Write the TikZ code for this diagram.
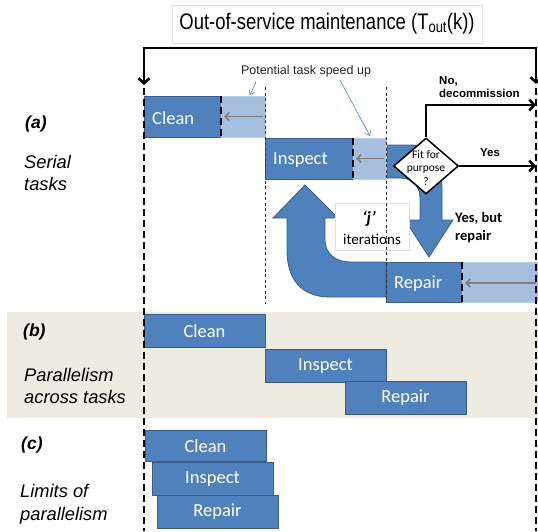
\documentclass[tikz,border=0pt]{standalone}
\usepackage{fontspec}
\setmainfont{Liberation Sans}
\newfontfamily\calfont{Carlito}
\usetikzlibrary{shapes.geometric,arrows.meta}
\definecolor{cdark}{HTML}{4F81BD}
\definecolor{cborder}{HTML}{385D8A}
\definecolor{clight}{HTML}{A7BFDE}
\definecolor{clightb}{HTML}{B9CDE5}
\definecolor{cband}{HTML}{EEECE1}
\definecolor{ccall}{HTML}{4A7EBB}
\definecolor{cgrayarr}{HTML}{7F7F7F}
\tikzset{
  box/.style={anchor=north west,inner sep=0pt,outer sep=0pt},
  dark/.style={box,fill=cdark,draw=cborder,line width=0.8pt,text=white,font=\calfont\fontsize{18.5}{22}\selectfont},
  light/.style={box,fill=clight,draw=clightb,line width=0.5pt},
  boxtxt/.style={anchor=west,inner sep=0pt,text=white,font=\calfont\fontsize{18.5}{22}\selectfont},
  thickdash/.style={line width=2.2pt,dash pattern=on 7pt off 4pt},
  thindash/.style={line width=0.8pt,dash pattern=on 3pt off 2.5pt,draw=black!80},
  blk/.style={line width=2.6pt,line join=miter},
  btip/.tip={Straight Barb[length=5pt,width=11pt,line width=2.6pt]},
  grayarr/.style={draw=cgrayarr,line width=1.6pt,-{Straight Barb[length=4pt,width=8pt]}},
  callout/.style={draw=ccall,line width=0.6pt,-{Straight Barb[length=4pt,width=6pt,line width=0.6pt]}},
  bigarrow/.style={fill=cdark,draw=cborder,line width=0.8pt},
  lbl/.style={anchor=base west,inner sep=0pt,font=\fontsize{18.3}{21}\selectfont\itshape},
  lblb/.style={anchor=base west,inner sep=0pt,font=\fontsize{17.5}{21}\selectfont\bfseries\itshape},
}
\begin{document}
\begin{tikzpicture}[x=1pt,y=-1pt]
\useasboundingbox (0,0) rectangle (538,531);

% title
\node[draw=black!12,fill=white,line width=0.6pt,minimum width=310pt,minimum height=38pt,inner sep=0pt] (title) at (327,24)
  {\scalebox{0.82}[1]{\fontsize{22.5}{26}\selectfont Out-of-service maintenance (T\textsubscript{out}(k))}};

% band (b)
\node[box,fill=cband,minimum width=531pt,minimum height=106pt] (band) at (7,312) {};

% bracket
\coordinate (lend) at (144,85);
\coordinate (tl) at (144,48);
\coordinate (tr) at (536,48);
\coordinate (rend) at (536,84);
\draw[blk,{btip}-{btip}] (lend) -- (tl) -- (tr) -- (rend);

% big curved arrows
\path[bigarrow] (386,297) -- (330,297) .. controls (300,297) and (287,278) .. (287,250) -- (287,218) -- (273,218) -- (305,185) -- (338,218) -- (325,218) -- (325,240) .. controls (325,253) and (335,262) .. (350,262) -- (386,262) -- cycle;
\path[bigarrow] (387,145) -- (412,145) .. controls (432,145) and (442,165) .. (442,190) -- (442,220) -- (453,220) -- (429,257) -- (405,220) -- (420,220) -- (420,198) .. controls (420,186) and (412,178) .. (400,178) -- (387,178) -- cycle;

% j iterations label
\node[box,draw=black!12,fill=white,line width=0.5pt,minimum width=74pt,minimum height=47pt] (jbox) at (335,203) {};
\node[inner sep=0pt,font=\calfont\fontsize{17}{20}\selectfont\bfseries\itshape] (jtxt) at (369,219) {‘j’};
\node[inner sep=0pt,font=\calfont\fontsize{15}{18}\selectfont] (itertxt) at (372,239) {iterations};

% (a) boxes
\node[dark,minimum width=77pt,minimum height=41pt] (cleanA) at (144,96) {};
\node[light,minimum width=44pt,minimum height=41pt] (cleanAx) at (221,96) {};
\node[dark,minimum width=88pt,minimum height=41pt] (inspA) at (265,138) {};
\node[light,minimum width=33pt,minimum height=41pt] (inspAx) at (353,138) {};
\node[dark,minimum width=76pt,minimum height=40pt] (repA) at (386,262) {};
\node[light,minimum width=80pt,minimum height=40pt] (repAx) at (462,262) {};
\node[boxtxt] (cleanAt) at ([xshift=8pt,yshift=-1.5pt]cleanA.west) {Clean};
\node[boxtxt] (inspAt) at ([xshift=8pt,yshift=-1.5pt]inspA.west) {Inspect};
\node[boxtxt] (repAt) at ([xshift=8pt,yshift=-1.5pt]repA.west) {Repair};

\draw[grayarr] ([xshift=-2pt]cleanAx.east) -- ([xshift=3pt]cleanA.east);
\draw[grayarr] ([xshift=-2pt]inspAx.east) -- ([xshift=3pt]inspA.east);
\draw[grayarr] ([xshift=-6pt,yshift=-1pt]repAx.east) -- ([xshift=3pt,yshift=-1pt]repA.east);

\draw[thickdash] (cleanA.north east) -- (cleanA.south east);
\draw[thickdash] (inspA.north east) -- (inspA.south east);
\draw[thickdash] (repA.north east) -- (repA.south east);

% (b)
\node[dark,minimum width=121pt,minimum height=33pt] (cleanB) at (144,314) {};
\node[dark,minimum width=121pt,minimum height=33pt] (inspB) at (265,349) {};
\node[dark,minimum width=121pt,minimum height=33pt] (repB) at (345,381) {};
\node[inner sep=0pt,text=white,font=\calfont\fontsize{18.5}{22}\selectfont] at ([yshift=-0.5pt]cleanB.center) {Clean};
\node[inner sep=0pt,text=white,font=\calfont\fontsize{18.5}{22}\selectfont] at ([yshift=-0.5pt]inspB.center) {Inspect};
\node[inner sep=0pt,text=white,font=\calfont\fontsize{18.5}{22}\selectfont] at ([yshift=-0.5pt]repB.center) {Repair};

% (c)
\node[dark,minimum width=121pt,minimum height=31pt] (cleanC) at (145,430) {};
\node[dark,minimum width=121pt,minimum height=33pt] (inspC) at (152,462) {};
\node[dark,minimum width=121pt,minimum height=33pt] (repC) at (157,495) {};
\node[inner sep=0pt,text=white,font=\calfont\fontsize{18.5}{22}\selectfont] at ([yshift=-0.5pt]cleanC.center) {Clean};
\node[inner sep=0pt,text=white,font=\calfont\fontsize{18.5}{22}\selectfont] at ([yshift=-0.5pt]inspC.center) {Inspect};
\node[inner sep=0pt,text=white,font=\calfont\fontsize{18.5}{22}\selectfont] at ([yshift=-0.5pt]repC.center) {Repair};

% dashed verticals
\draw[thickdash] (144,88) -- (144,531);
\draw[thickdash] (536,88) -- (536,531);
\draw[thindash] (265,87) -- (265,304);
\draw[thindash] (386,87) -- (386,302);

% diamond and outcomes
\node[diamond,draw=black,fill=white,line width=1.5pt,minimum width=65pt,minimum height=56pt,inner sep=0pt] (dia) at (426,166) {};
\node[inner sep=0pt,align=center,font=\calfont\fontsize{11.5}{13.5}\selectfont] (diat) at (426,168) {Fit for\\purpose\\?};
\coordinate (noend) at (536,105);
\coordinate (yesend) at (536,166);
\draw[blk,-{btip}] (dia.north) |- (noend);
\draw[blk,-{btip}] (dia.east) -- (yesend);
\node[anchor=base west,inner sep=0pt,font=\fontsize{11.5}{14}\selectfont\bfseries] (notxt) at (439,84) {No,};
\node[anchor=base west,inner sep=0pt,font=\fontsize{11.5}{14}\selectfont\bfseries] (dectxt) at (439,97) {decommission};
\node[inner sep=0pt,font=\fontsize{11.5}{14}\selectfont\bfseries] (yestxt) at (490,153) {Yes};
\node[anchor=base west,inner sep=0pt,font=\calfont\fontsize{14.5}{17}\selectfont\bfseries] (ybtxt) at (455,222) {Yes, but};
\node[anchor=base west,inner sep=0pt,font=\calfont\fontsize{14.5}{17}\selectfont\bfseries] (reptxt) at (455,240) {repair};

% callout
\node[inner sep=0pt,text=black!85,font=\fontsize{12.5}{15}\selectfont] (pts) at (306,71) {Potential task speed up};
\coordinate (c1s) at (256,82);
\coordinate (c1e) at (250,95);
\coordinate (c2s) at (340,80);
\coordinate (c2e) at (370,136);
\draw[callout] (c1s) -- (c1e);
\draw[callout] (c2s) -- (c2e);

% side labels
\node[lblb] (la) at (25,128) {(a)};
\node[lbl] (la1) at (24,168) {Serial};
\node[lbl] (la2) at (24,190) {tasks};
\node[lblb] (lb) at (23,336) {(b)};
\node[lbl] (lb1) at (24,381) {Parallelism};
\node[lbl] (lb2) at (24,403) {across tasks};
\node[lblb] (lc) at (21,449) {(c)};
\node[lbl] (lc1) at (20,497) {Limits of};
\node[lbl] (lc2) at (20,520) {parallelism};
\end{tikzpicture}
\end{document}
